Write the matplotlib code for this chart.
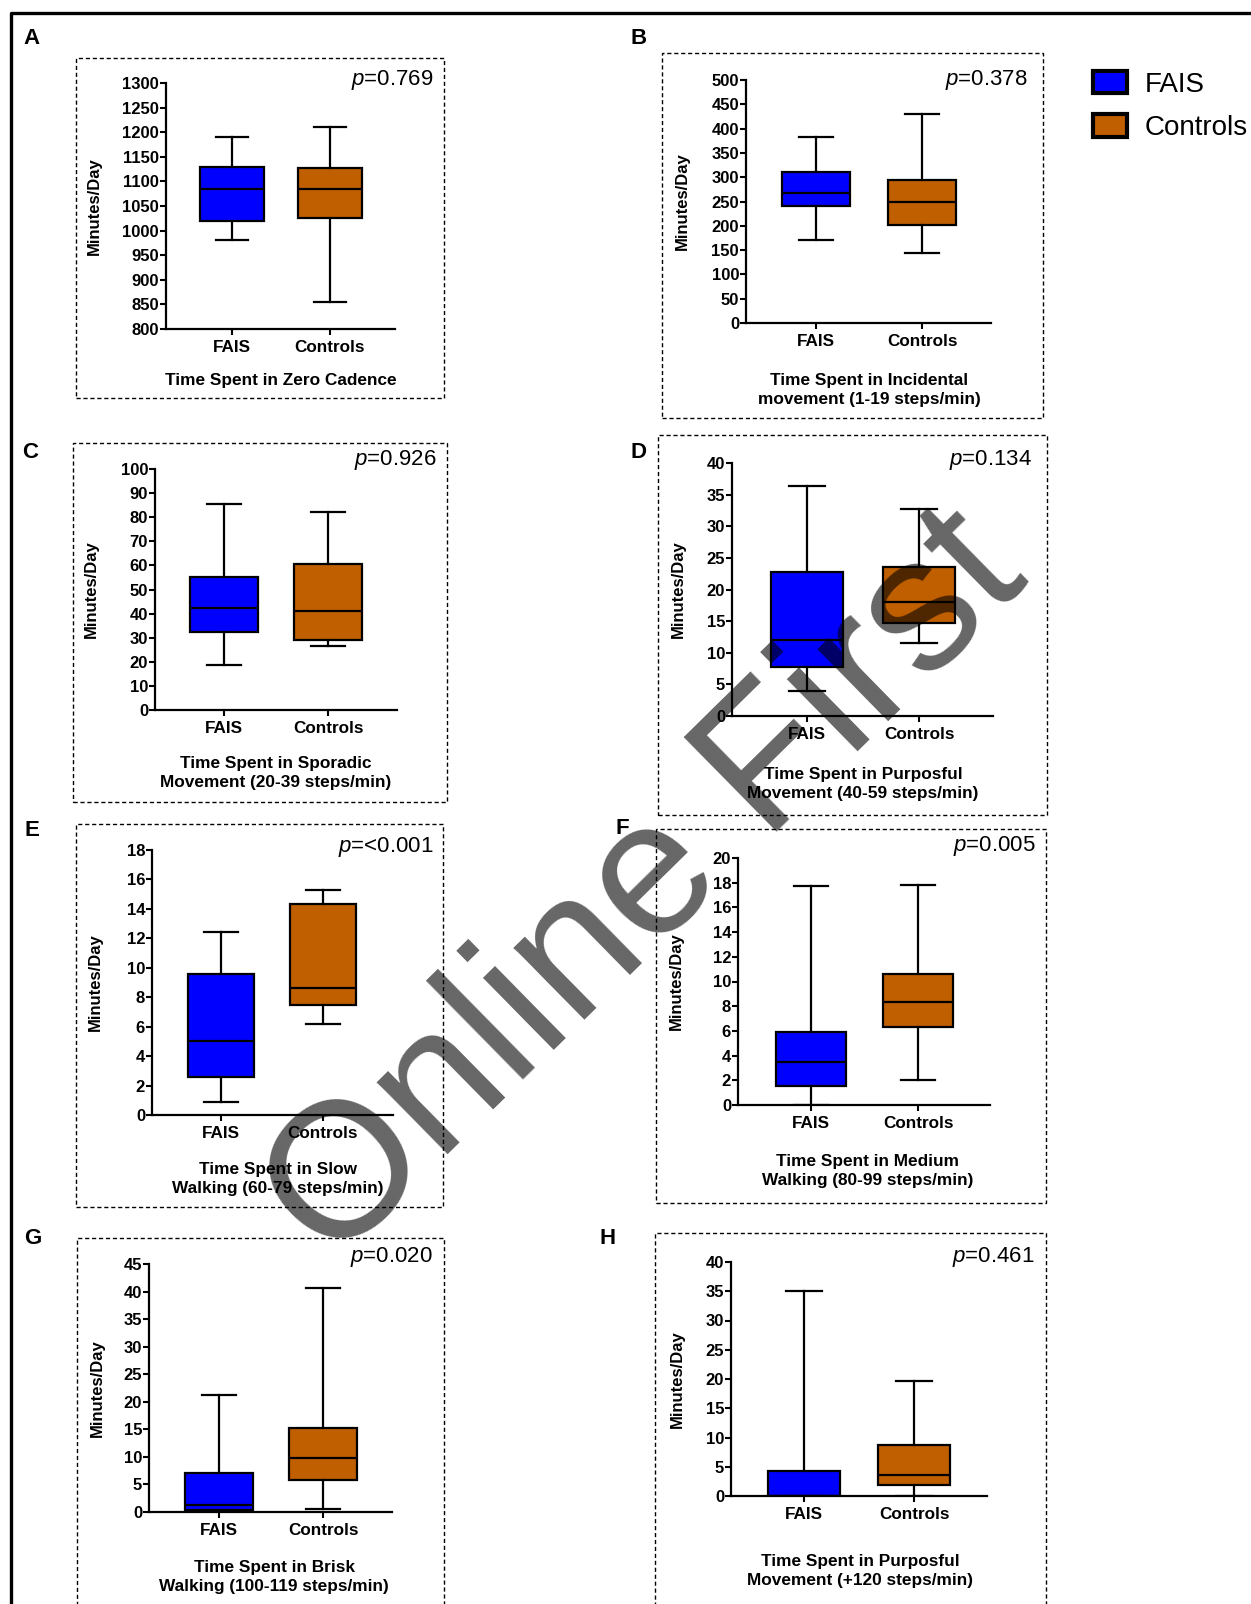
import matplotlib
matplotlib.use('Agg')
import matplotlib.pyplot as plt
from matplotlib.patches import Rectangle, Patch
from matplotlib.lines import Line2D
import numpy as np

plt.rcParams['font.family'] = ['Liberation Sans', 'DejaVu Sans']
plt.rcParams['mathtext.fontset'] = 'custom'
plt.rcParams['mathtext.rm'] = 'Liberation Sans'
plt.rcParams['mathtext.it'] = 'Liberation Sans:italic'

# ---- data (minutes/day) ----
letters = ['A', 'B', 'C', 'D', 'E', 'F', 'G', 'H']
groups = ['FAIS', 'Controls']
xlabels = ['Time Spent in Zero Cadence',
           'Time Spent in Incidental\nmovement (1-19 steps/min)',
           'Time Spent in Sporadic\nMovement (20-39 steps/min)',
           'Time Spent in Purposful\nMovement (40-59 steps/min)',
           'Time Spent in Slow\nWalking (60-79 steps/min)',
           'Time Spent in Medium\nWalking (80-99 steps/min)',
           'Time Spent in Brisk\nWalking (100-119 steps/min)',
           'Time Spent in Purposful\nMovement (+120 steps/min)']
p_values = ['=0.769', '=0.378', '=0.926', '=0.134', '=<0.001', '=0.005', '=0.020', '=0.461']
y_min = [800, 0, 0, 0, 0, 0, 0, 0]
y_max = [1300, 500, 100, 40, 18, 20, 45, 40]
y_step = [50, 50, 10, 5, 2, 2, 5, 5]

fais_low = [980, 170, 18.5, 4.0, 0.9, 0.0, 0.3, 0.0]
fais_q1 = [1020, 240, 32.5, 7.8, 2.6, 1.5, 0.4, 0.0]
fais_med = [1085, 268, 42.5, 12.0, 5.0, 3.45, 1.3, 0.05]
fais_q3 = [1130, 311, 55.0, 22.8, 9.6, 5.9, 7.0, 4.2]
fais_high = [1190, 383, 85.5, 36.4, 12.4, 17.7, 21.3, 35.0]

ctrl_low = [855, 145, 26.5, 11.5, 6.2, 2.0, 0.5, 0.0]
ctrl_q1 = [1025, 202, 29.0, 14.7, 7.5, 6.3, 5.8, 1.9]
ctrl_med = [1085, 248, 41.0, 18.0, 8.6, 8.3, 9.8, 3.6]
ctrl_q3 = [1127, 295, 60.5, 23.6, 14.3, 10.6, 15.2, 8.7]
ctrl_high = [1210, 430, 82.0, 32.7, 15.3, 17.8, 40.7, 19.6]

colors = ['#0000FF', '#C05F00']

# ---- layout in pixels of the 1251x1604 canvas ----
W, H = 1251, 1604
axes_px = [(166, 83, 395, 329, 232, 330), (746, 80, 991, 323, 816, 922),
           (155, 469, 397, 710, 224, 328), (732, 463, 993, 716, 807, 919),
           (152, 850, 393, 1115, 221, 323), (738, 858, 990, 1105, 811, 918),
           (149, 1264, 392, 1512, 219, 323), (731, 1262, 987, 1496, 804, 914)]
frames_px = [(76, 58, 444, 398), (662, 53, 1043, 418), (73, 443, 447, 802),
             (658, 435, 1047, 815), (76, 824, 443, 1207), (656, 829, 1046, 1203),
             (77, 1238, 444, 1620), (655, 1233, 1046, 1620)]
letter_px = [(32, 38), (639, 38), (30, 452), (639, 452), (32, 830), (622, 828),
             (33, 1238), (608, 1238)]
p_px = [(433, 80), (1028, 80), (437, 460), (1032, 460), (434, 847), (1036, 846),
        (433, 1257), (1035, 1257)]
xlab_px = [(281, 381), (869, 390), (276, 773), (863, 784), (278, 1179), (868, 1171),
           (274, 1577), (860, 1571)]
ylab_x = [102, 690, 99, 686, 103, 684, 105, 685]


def fx(x):
    return x / W


def fy(y):
    return 1 - y / H


fig = plt.figure(figsize=(W / 100, H / 100), dpi=100)

for i in range(8):
    l, t, r, b, t1, t2 = axes_px[i]
    ax = fig.add_axes([fx(l), fy(b), (r - l) / W, (b - t) / H])
    stats = [dict(whislo=fais_low[i], q1=fais_q1[i], med=fais_med[i], q3=fais_q3[i],
                  whishi=fais_high[i], fliers=[]),
             dict(whislo=ctrl_low[i], q1=ctrl_q1[i], med=ctrl_med[i], q3=ctrl_q3[i],
                  whishi=ctrl_high[i], fliers=[])]
    bp = ax.bxp(stats, positions=[1, 2], widths=0.65, patch_artist=True, showfliers=False,
                boxprops=dict(edgecolor='black', linewidth=1.6),
                medianprops=dict(color='black', linewidth=1.6),
                whiskerprops=dict(color='black', linewidth=1.6),
                capprops=dict(color='black', linewidth=1.6))
    for patch, c in zip(bp['boxes'], colors):
        patch.set_facecolor(c)
    d = t2 - t1
    ax.set_xlim(1 - (t1 - l) / d, 2 + (r - t2) / d)
    ax.set_ylim(y_min[i], y_max[i])
    ax.set_yticks(np.arange(y_min[i], y_max[i] + y_step[i] / 2, y_step[i]))
    ax.set_xticks([1, 2])
    ax.set_xticklabels(groups, fontsize=12.3, fontweight='bold')
    for lab in ax.get_yticklabels():
        lab.set_fontweight('bold')
        lab.set_fontsize(12)
    ax.tick_params(axis='y', length=4, width=1.5, pad=1)
    ax.tick_params(axis='x', length=4, width=1.5, pad=4)
    for s in ['top', 'right']:
        ax.spines[s].set_visible(False)
    for s in ['left', 'bottom']:
        ax.spines[s].set_linewidth(1.6)
    ax.set_ylabel('Minutes/Day', fontsize=12, fontweight='bold')
    ax.yaxis.set_label_coords((ylab_x[i] - l) / (r - l), 0.5)

    fl, ft, fr, fb = frames_px[i]
    fig.add_artist(Rectangle((fx(fl), fy(fb)), (fr - fl) / W, (fb - ft) / H, fill=False,
                             edgecolor='black', linewidth=1.0, linestyle=(0, (3, 2)),
                             transform=fig.transFigure))
    fig.text(fx(letter_px[i][0]), fy(letter_px[i][1]), letters[i], fontsize=16,
             fontweight='bold', ha='center', va='center')
    fig.text(fx(p_px[i][0]), fy(p_px[i][1]), '$p$' + p_values[i], fontsize=16,
             ha='right', va='center')
    fig.text(fx(xlab_px[i][0]), fy(xlab_px[i][1]), xlabels[i], fontsize=12.4,
             fontweight='bold', ha='center', va='center', linespacing=1.3)

# legend
handles = [Patch(facecolor=c, edgecolor='black', linewidth=3) for c in colors]
fig.legend(handles, groups, loc='upper left', bbox_to_anchor=(fx(1093), fy(71)),
           frameon=False, fontsize=20, handlelength=1.22, handleheight=0.86,
           handletextpad=0.65, labelspacing=0.6, borderpad=0, borderaxespad=0)

# outer border
fig.add_artist(Line2D([fx(11), fx(11), fx(1260)], [fy(1620), fy(13), fy(13)],
                      color='black', linewidth=2.4, transform=fig.transFigure))

# watermark
fig.text(fx(333), fy(1268), 'Online First', fontsize=138, color='black', alpha=0.6,
         rotation=44.5, ha='left', va='baseline', rotation_mode='anchor', zorder=10)

fig.savefig('out.png', dpi=100)
